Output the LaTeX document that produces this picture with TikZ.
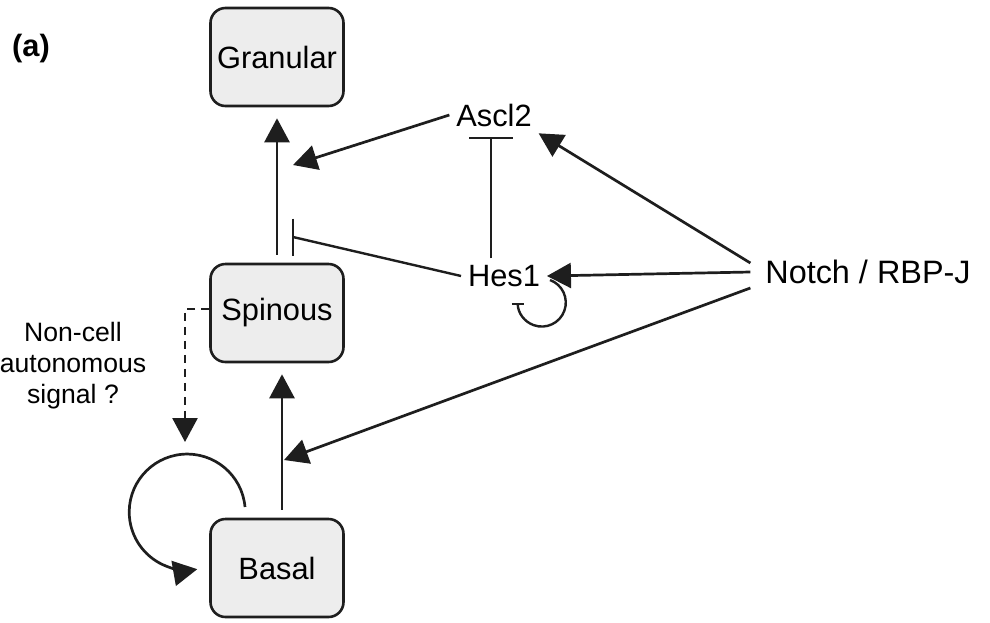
\documentclass[tikz,border=0pt]{standalone}
\usepackage{fontspec}
\setmainfont{Liberation Sans}
\usepackage{xcolor}
\usetikzlibrary{arrows.meta}
\usetikzlibrary{calc}

\definecolor{cellfill}{HTML}{EDEDED}
\definecolor{ink}{HTML}{1E1E1E}

\tikzset{
  cell/.style={draw=ink, line width=1.3pt, fill=cellfill, rounded corners=7.5pt,
    minimum width=66.5pt, minimum height=49pt, inner sep=0pt,
    font=\fontsize{15.4}{18}\selectfont},
  gene/.style={font=\fontsize{15.4}{18}\selectfont, inner sep=3.3pt},
  arr/.style={draw=ink, line width=1.35pt, -{Triangle[length=12pt,width=12.5pt]}},
  inh/.style={draw=ink, line width=1.2pt, -{Bar[width=22pt]}},
}

\begin{document}
\begin{tikzpicture}[x=0.5pt, y=-0.5pt, >=latex]
\useasboundingbox (0,0) rectangle (990,622);

%cells
\foreach \name/\y/\txt in {granular/57/Granular, spinous/313/Spinous, basal/568/Basal} {
  \node[cell] (\name) at (277,\y) {\txt};
}

\node[font=\bfseries\fontsize{15.4}{18}\selectfont] (label) at (31,49) {(a)};
\node[gene] (ascl2) at (494,115) {Ascl2};
\node[gene] (hes1) at (504,276) {Hes1};
\node[gene, font=\fontsize{16.2}{19}\selectfont] (notch) at (868,272) {Notch / RBP-J};
\node[align=center, font=\fontsize{13.3}{15.5}\selectfont] (signal) at (73,366)
  {Non-cell\\autonomous\\signal ?};

\coordinate (ag) at (293,165);
\coordinate (sg) at (293,237);
\coordinate (hb) at (491,137);
\coordinate (bs) at (284,460);
\coordinate (ds) at (185,442);
\coordinate (bl) at (245,507);
\coordinate (hl) at (550,280);

%differentiation
\draw[arr, shorten <=4pt, shorten >=5.5pt] (spinous) -- (granular);
\draw[arr, shorten <=4pt, shorten >=5.5pt] ([xshift=2.5pt]basal.north) -- ([xshift=2.5pt]spinous.south);
\draw[arr, dashed, dash pattern=on 4pt off 3pt] ([yshift=2pt]spinous.west) -| (ds);
\draw[arr] (bl) arc[start angle=-5, end angle=-280, radius=58];

%regulation
\draw[arr] (ascl2.west) -- (ag);
\draw[draw=ink, line width=1.2pt] (hes1.west) -- (sg);
\draw[draw=ink, line width=1.2pt] ([yshift=9.25pt]sg) -- ([yshift=-9.25pt]sg);
\draw[inh] (hb |- hes1.north) -- (hb);
\draw[draw=ink, line width=1.2pt, -{Bar[width=6pt]}] (hl) arc[start angle=-70, end angle=180, radius=24];
\draw[arr] ([xshift=-4pt,yshift=4.5pt]notch.west) -- (ascl2.south east);
\draw[arr] ([xshift=-4pt]notch.west) -- (hes1.east);
\draw[arr] ([xshift=-4pt,yshift=-8pt]notch.west) -- (bs);
\end{tikzpicture}
\end{document}
